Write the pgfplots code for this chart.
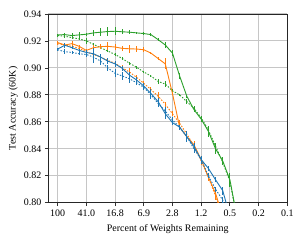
\documentclass[border=0pt]{standalone}
\usepackage{pgfplots}
\pgfplotsset{compat=1.18}
\usepackage{fontspec}
\setmainfont{Liberation Serif}
\definecolor{tabblue}{HTML}{1F77B4}
\definecolor{taborange}{HTML}{FF7F0E}
\definecolor{tabgreen}{HTML}{2CA02C}
\begin{document}
\fontsize{10}{12}\selectfont
\begin{tikzpicture}
\useasboundingbox (-48.3bp,-40.3bp) rectangle (253.7bp,202.7bp);
\begin{axis}[
  at={(0,0)}, anchor=south west,
  scale only axis, width=239bp, height=188.7bp,
  xmin=-1.3, xmax=32, ymin=0.80, ymax=0.94,
  xtick={0,4,8,12,16,20,24,28,32},
  xticklabels={100,41.0,16.8,6.9,2.8,1.2,0.5,0.2,0.1},
  ytick={0.80,0.82,0.84,0.86,0.88,0.90,0.92,0.94},
  yticklabel style={/pgf/number format/.cd,fixed,fixed zerofill,precision=2},
  /pgf/number format/assume math mode=true,
  tick label style={font=\fontsize{10}{12}\selectfont},
  label style={font=\fontsize{10}{12}\selectfont},
  xlabel={Percent of Weights Remaining},
  ylabel={Test Accuracy (60K)},
  tick align=outside, tick pos=left,
  major tick length=3.5bp,
  tick style={black!80, line width=0.8bp},
  axis line style={black!85, line width=0.8bp},
  grid=major, major grid style={gray!45, line width=1bp},
  ylabel style={at={(-35bp,0.5)}, anchor=center},
  xlabel style={at={(0.5,-26.5bp)}, anchor=center},
  every axis plot/.append style={line width=0.9bp},
  error bars/y dir=both, error bars/y explicit,
  error bars/error mark=none,
  error bars/error bar style={line width=0.9bp},
]
% green solid
\addplot[tabgreen, no marks, error bars/error bar style={tabgreen}] coordinates {
(0,0.9245)+-(0,0.001) (1,0.9247)+-(0,0.0015) (2,0.9240)+-(0,0.002) (3,0.9245)+-(0,0.002)
(4,0.9250)+-(0,0.001) (5,0.9260)+-(0,0.002) (6,0.9265)+-(0,0.003) (7,0.9270)+-(0,0.003)
(8,0.9272)+-(0,0.003) (9,0.9268)+-(0,0.002) (10,0.9265)+-(0,0.0015) (11,0.9260)+-(0,0.001)
(12,0.9255)+-(0,0.001) (13,0.9247)+-(0,0.001) (14,0.9210)+-(0,0.001) (15,0.9170)+-(0,0.002)
(16,0.9110)+-(0,0.002) (17,0.8940)+-(0,0.002) (18,0.8790)+-(0,0.001) (19,0.8690)+-(0,0.002)
(20,0.8620)+-(0,0.002) (21,0.8530)+-(0,0.004) (22,0.8400)+-(0,0.004) (23,0.8310)+-(0,0.003)
(24,0.8170)+-(0,0.005) (25,0.7890)+-(0,0.003)
};
% green dotted
\addplot[tabgreen, no marks, dash pattern=on 1.5bp off 1.5bp, error bars/error bar style={tabgreen, solid}] coordinates {
(0,0.9240)+-(0,0.001) (1,0.9235)+-(0,0.001) (2,0.9225)+-(0,0.001) (3,0.9215)+-(0,0.001)
(4,0.9200)+-(0,0.002) (5,0.9175)+-(0,0.001) (6,0.9150)+-(0,0.001) (7,0.9125)+-(0,0.001)
(8,0.9100)+-(0,0.001) (9,0.9070)+-(0,0.001) (10,0.9035)+-(0,0.001) (11,0.9005)+-(0,0.001)
(12,0.8970)+-(0,0.001) (13,0.8940)+-(0,0.001) (14,0.8900)+-(0,0.002) (15,0.8880)+-(0,0.002)
(16,0.8830)+-(0,0.001) (17,0.8800)+-(0,0.001) (18,0.8750)+-(0,0.002) (19,0.8700)+-(0,0.002)
(20,0.8630)+-(0,0.001) (21,0.8540)+-(0,0.002) (22,0.8420)+-(0,0.002) (23,0.8300)+-(0,0.002)
(24,0.8160)+-(0,0.002) (25,0.7880)+-(0,0.002)
};
% orange solid
\addplot[taborange, no marks, error bars/error bar style={taborange}] coordinates {
(0,0.9188)+-(0,0.001) (1,0.9170)+-(0,0.001) (2,0.9180)+-(0,0.002) (3,0.9160)+-(0,0.001)
(4,0.9130)+-(0,0.001) (5,0.9150)+-(0,0.002) (6,0.9158)+-(0,0.002) (7,0.9160)+-(0,0.003)
(8,0.9155)+-(0,0.002) (9,0.9145)+-(0,0.002) (10,0.9142)+-(0,0.003) (11,0.9140)+-(0,0.002)
(12,0.9135)+-(0,0.002) (13,0.9110)+-(0,0.001) (14,0.9070)+-(0,0.001) (15,0.9030)+-(0,0.004)
(16,0.8810)+-(0,0.001) (17,0.8560)+-(0,0.002) (18,0.8490)+-(0,0.002) (19,0.8430)+-(0,0.003)
(20,0.8320)+-(0,0.002) (21,0.8190)+-(0,0.003) (22,0.8070)+-(0,0.003) (23,0.7900)+-(0,0.002)
};
% orange dotted
\addplot[taborange, no marks, dash pattern=on 1.5bp off 1.5bp, error bars/error bar style={taborange, solid}] coordinates {
(0,0.9180)+-(0,0.001) (1,0.9170)+-(0,0.001) (2,0.9160)+-(0,0.001) (3,0.9145)+-(0,0.001)
(4,0.9120)+-(0,0.001) (5,0.9100)+-(0,0.002) (6,0.9080)+-(0,0.002) (7,0.9055)+-(0,0.002)
(8,0.9035)+-(0,0.002) (9,0.9000)+-(0,0.002) (10,0.8970)+-(0,0.003) (11,0.8930)+-(0,0.002)
(12,0.8886)+-(0,0.002) (13,0.8840)+-(0,0.002) (14,0.8790)+-(0,0.003) (15,0.8730)+-(0,0.002)
(16,0.8660)+-(0,0.002) (17,0.8590)+-(0,0.002) (18,0.8510)+-(0,0.002) (19,0.8420)+-(0,0.003)
(20,0.8310)+-(0,0.003) (21,0.8190)+-(0,0.003) (22,0.8050)+-(0,0.003) (23,0.7900)+-(0,0.002)
};
% blue solid
\addplot[tabblue, no marks, error bars/error bar style={tabblue}] coordinates {
(0,0.9140)+-(0,0.001) (1,0.9168)+-(0,0.002) (2,0.9150)+-(0,0.001) (3,0.9130)+-(0,0.001)
(4,0.9115)+-(0,0.002) (5,0.9105)+-(0,0.004) (6,0.9080)+-(0,0.002) (7,0.9050)+-(0,0.002)
(8,0.9030)+-(0,0.002) (9,0.8997)+-(0,0.002) (10,0.8947)+-(0,0.002) (11,0.8910)+-(0,0.002)
(12,0.8866)+-(0,0.002) (13,0.8810)+-(0,0.003) (14,0.8750)+-(0,0.003) (15,0.8660)+-(0,0.004)
(16,0.8594)+-(0,0.002) (17,0.8560)+-(0,0.002) (18,0.8490)+-(0,0.004) (19,0.8416)+-(0,0.003)
(20,0.8320)+-(0,0.002) (21,0.8255)+-(0,0.002) (22,0.8170)+-(0,0.002) (23,0.8090)+-(0,0.003)
(24,0.7900)+-(0,0.002)
};
% blue dotted
\addplot[tabblue, no marks, dash pattern=on 1.5bp off 1.5bp, error bars/error bar style={tabblue, solid}] coordinates {
(0,0.9135)+-(0,0.001) (1,0.9120)+-(0,0.002) (2,0.9115)+-(0,0.001) (3,0.9105)+-(0,0.001)
(4,0.9100)+-(0,0.002) (5,0.9080)+-(0,0.004) (6,0.9050)+-(0,0.003) (7,0.9000)+-(0,0.002)
(8,0.8960)+-(0,0.003) (9,0.8940)+-(0,0.003) (10,0.8920)+-(0,0.003) (11,0.8890)+-(0,0.002)
(12,0.8856)+-(0,0.002) (13,0.8800)+-(0,0.003) (14,0.8737)+-(0,0.003) (15,0.8680)+-(0,0.003)
(16,0.8614)+-(0,0.002) (17,0.8560)+-(0,0.002) (18,0.8490)+-(0,0.003) (19,0.8400)+-(0,0.003)
(20,0.8320)+-(0,0.003) (21,0.8200)+-(0,0.002) (22,0.8100)+-(0,0.002) (23,0.8020)+-(0,0.002)
(24,0.7850)+-(0,0.002)
};
\end{axis}
\end{tikzpicture}
\end{document}
